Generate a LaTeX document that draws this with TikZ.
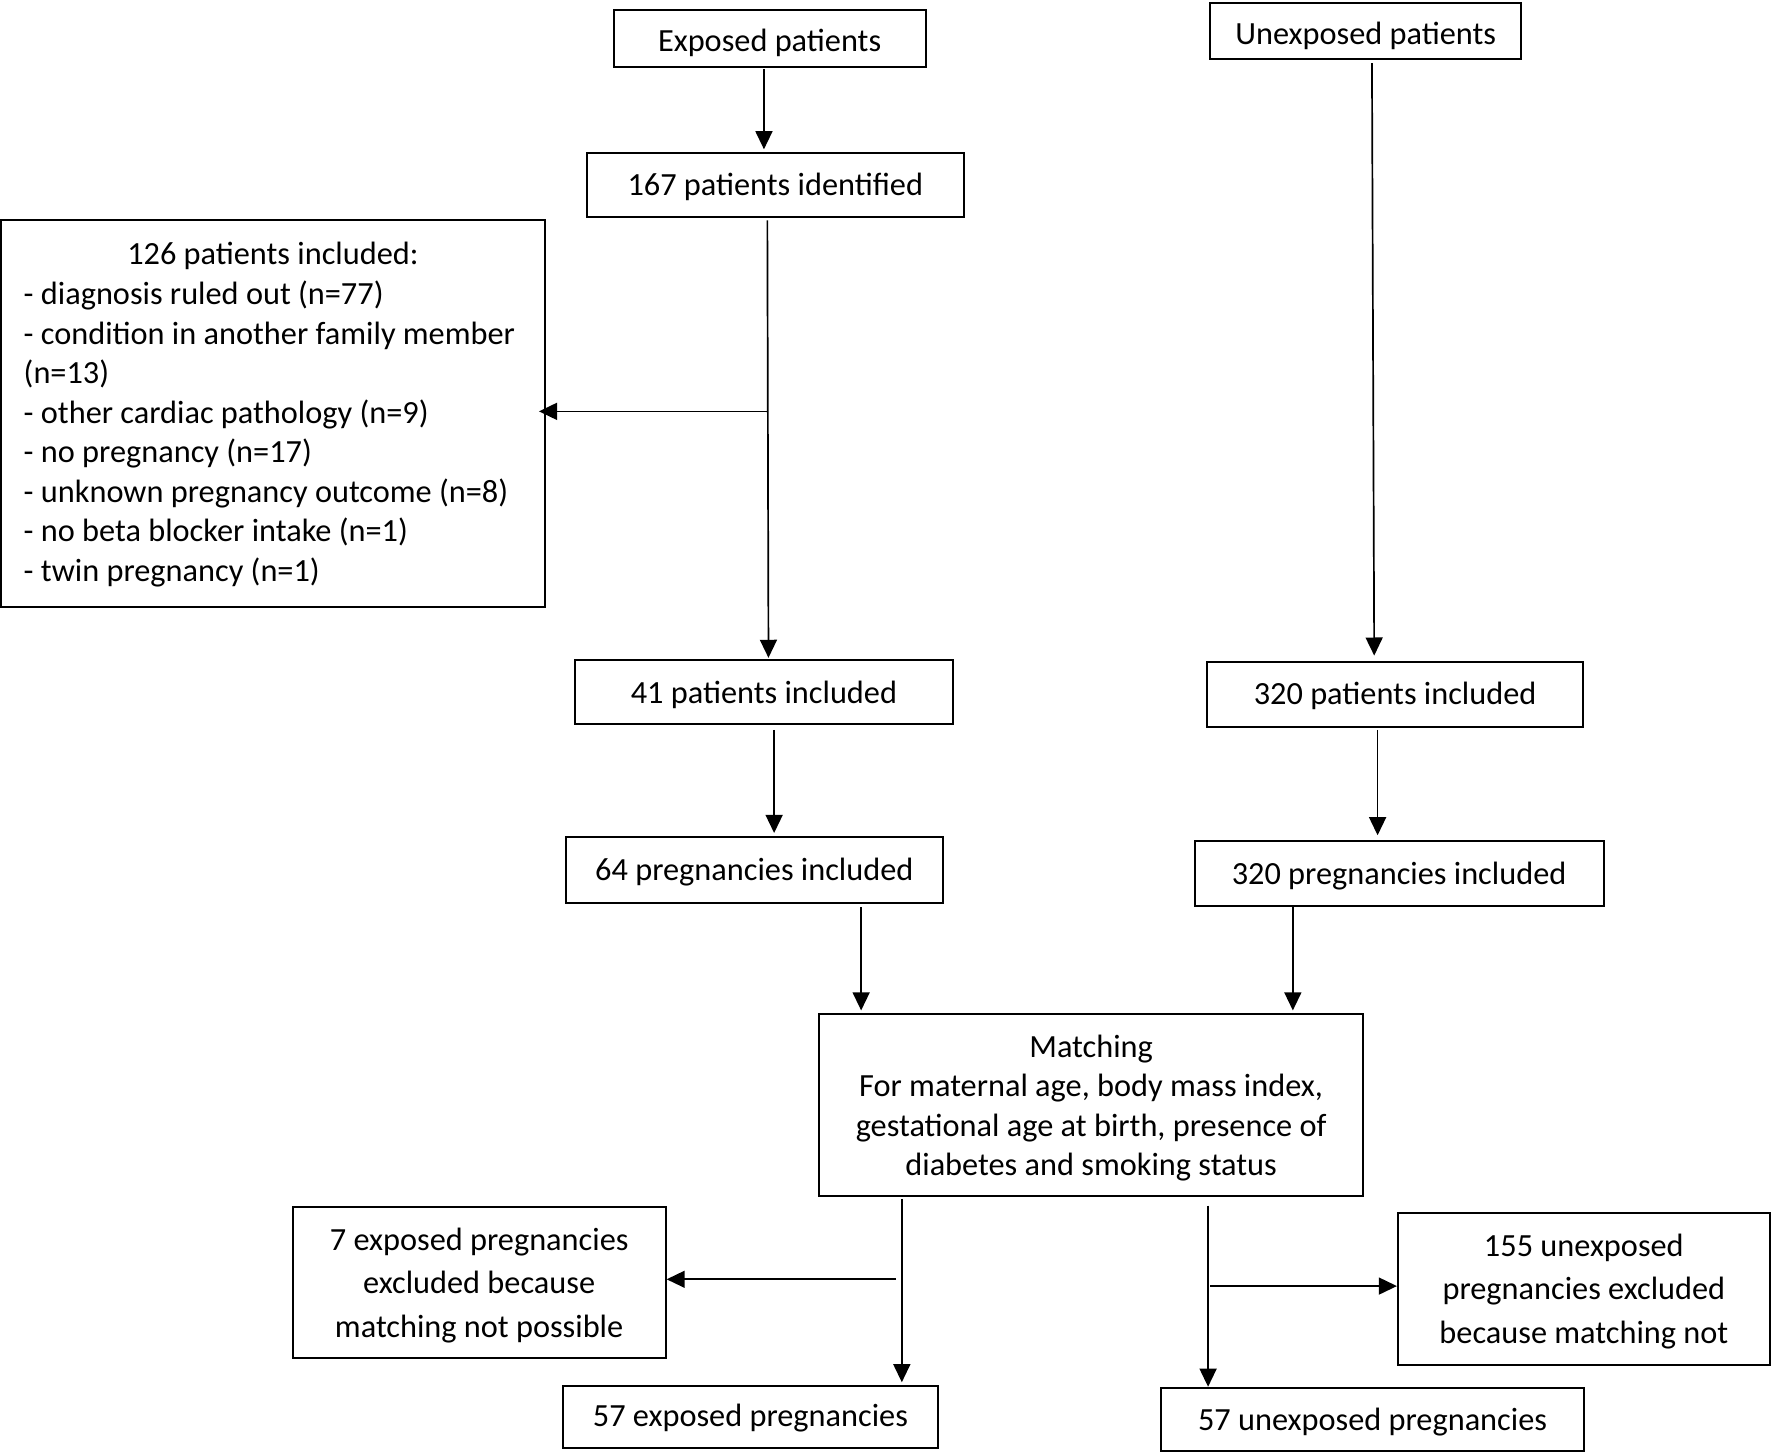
\documentclass[tikz,border=0pt]{standalone}
\usepackage{fontspec}
\setmainfont{Carlito}
\usetikzlibrary{arrows.meta}
\tikzset{
  box/.style={draw, line width=1.8pt, inner sep=0pt},
  lab/.style={inner sep=0pt, align=center, font=\fontsize{28.6}{35}\selectfont},
  labwide/.style={lab, font=\fontsize{28.6}{38.5}\selectfont},
  arr/.style={line width=1.5pt, -{Triangle[length=16pt,width=15pt]}}
}
\begin{document}
\begin{tikzpicture}[x=1pt,y=-1pt]
\useasboundingbox (0,0) rectangle (1568,1286);
\node[box, minimum width=276pt, minimum height=50pt,
  label={[lab,yshift=-4pt]center:Exposed patients}] (exp) at (681,34) {};
\node[box, minimum width=275pt, minimum height=49pt,
  label={[lab,yshift=-4pt]center:Unexposed patients}] (unexp) at (1208.5,27.5) {};
\node[box, minimum width=334pt, minimum height=57pt,
  label={[lab,yshift=-2pt]center:167 patients identified}] (n167) at (686,163.5) {};
\node[box, minimum width=481pt, minimum height=342pt,
  label={[lab,yshift=-1pt,align=flush left,text width=448pt,xshift=3.5pt]center:{\makebox[\linewidth][c]{\hspace*{-7pt}126 patients included:}\\
  - diagnosis ruled out (n=77)\\
  - condition in another family member\\
  (n=13)\\
  - other cardiac pathology (n=9)\\
  - no pregnancy (n=17)\\
  - unknown pregnancy outcome (n=8)\\
  - no beta blocker intake (n=1)\\
  - twin pregnancy (n=1)}}] (n126) at (241.5,366) {};
\node[box, minimum width=334pt, minimum height=57pt,
  label={[lab,yshift=-2pt]center:41 patients included}] (n41) at (676,612.5) {};
\node[box, minimum width=333pt, minimum height=57pt,
  label={[lab,yshift=-1.5pt]center:320 patients included}] (n320p) at (1234.5,614.5) {};
\node[box, minimum width=333pt, minimum height=58pt,
  label={[lab,yshift=-2pt]center:64 pregnancies included}] (n64) at (667.5,770) {};
\node[box, minimum width=362pt, minimum height=58pt,
  label={[lab,yshift=-2pt]center:320 pregnancies included}] (n320g) at (1238,773) {};
\node[box, minimum width=481pt, minimum height=161pt,
  label={[lab,yshift=-3pt]center:{Matching\\For maternal age, body mass index,\\gestational age at birth, presence of\\diabetes and smoking status}}] (match) at (965.5,977.5) {};
\node[box, minimum width=330pt, minimum height=134pt,
  label={[labwide,yshift=-2.5pt]center:{7 exposed pregnancies\\excluded because\\matching not possible}}] (ex7) at (424,1135) {};
\node[box, minimum width=329pt, minimum height=135pt,
  label={[labwide,yshift=-2pt]center:{155 unexposed\\pregnancies excluded\\because matching not}}] (ex155) at (1401.5,1140.5) {};
\node[box, minimum width=332pt, minimum height=55pt,
  label={[lab,yshift=-1.5pt]center:57 exposed pregnancies}] (e57) at (664,1253.5) {};
\node[box, minimum width=375pt, minimum height=56pt,
  label={[lab,yshift=-2pt]center:57 unexposed pregnancies}] (u57) at (1214.5,1256) {};

\coordinate (b1) at (679.5,364);
\coordinate (b2) at (793,1132);
\coordinate (b3) at (1071,1138);

\draw[arr] ([xshift=-5pt,yshift=-1pt]exp.south) -- ([xshift=-10pt,yshift=2pt]n167.north);
\draw[arr] ([xshift=-7pt,yshift=-2pt]n167.south) -- ([xshift=4pt,yshift=1pt]n41.north);
\draw[arr] (b1) -- ([xshift=-6pt,yshift=2pt]n126.east);
\draw[arr] ([xshift=5.5pt,yshift=-3pt]unexp.south) -- ([xshift=-18.5pt,yshift=5pt]n320p.north);
\draw[arr] ([xshift=9pt,yshift=-4pt]n41.south) -- ([xshift=17.5pt,yshift=3pt]n64.north);
\draw[arr] ([xshift=-15.5pt,yshift=-2pt]n320p.south) -- ([xshift=-19pt,yshift=4pt]n320g.north);
\draw[arr] ([xshift=94.5pt,yshift=-3pt]n64.south) -- ([xshift=-203.5pt,yshift=2pt]match.north);
\draw[arr] ([xshift=-94pt,yshift=2pt]n320g.south) -- ([xshift=178.5pt,yshift=2pt]match.north);
\draw[arr] ([xshift=-167.5pt,yshift=-2pt]match.south) -- ([xshift=134pt,yshift=2pt]e57.north);
\draw[arr] (b2) -- ([yshift=3pt]ex7.east);
\draw[arr] ([xshift=103.5pt,yshift=-8pt]match.south) -- ([xshift=-145.5pt]u57.north);
\draw[arr] (b3) -- ([yshift=2.5pt]ex155.west);
\end{tikzpicture}
\end{document}
